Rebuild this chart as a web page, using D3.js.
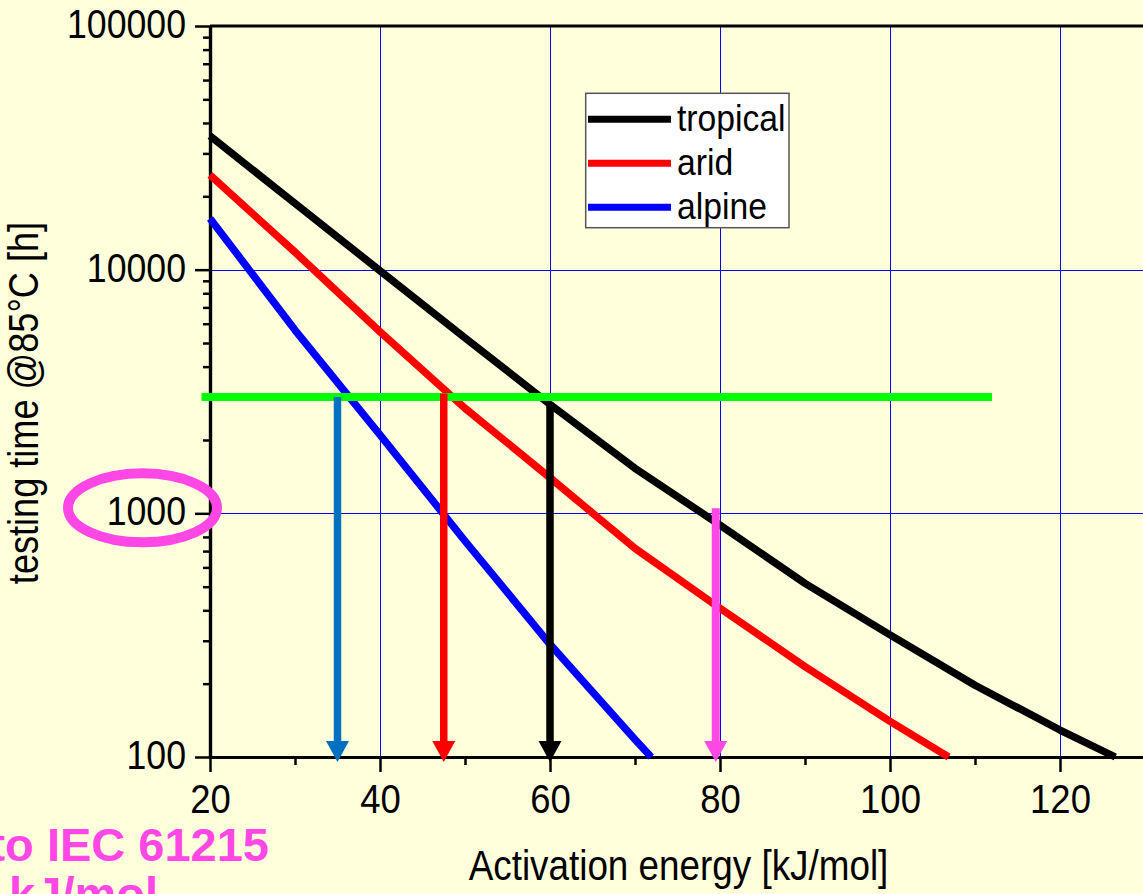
<!DOCTYPE html>
<html><head><meta charset="utf-8">
<script src="https://cdn.jsdelivr.net/npm/d3@7"></script>
<style>html,body{margin:0;padding:0;background:#FFFFDC;overflow:hidden}
text{font-family:"Liberation Sans",Arial,sans-serif}</style>
</head><body><svg id="c" width="1143" height="894"></svg>
<script>
// ---- data ----
const seriesNames = ["tropical", "arid", "alpine"];
const tropicalE = [20, 30, 40, 50, 60, 70, 80, 90, 100, 110, 120, 126.5];
const tropicalT = [35400, 18700, 9900, 5250, 2800, 1530, 895, 516, 317, 197, 129, 100];
const aridE = [20, 30, 40, 50, 60, 70, 80, 90, 100, 106.9];
const aridT = [24450, 11800, 5560, 2700, 1400, 718, 408, 235, 140, 100];
const alpineE = [20, 30, 40, 50, 60, 70, 71.9];
const alpineT = [16230, 5650, 2100, 770, 290, 118, 100];
const targetTime = 3000;            // horizontal green line (h)
const targetRange = [19, 112];      // extent of green line (kJ/mol)
const arrowE = [35, 47.5, 60, 79.5];       // read-off activation energies
const arrowTop = [3000, 3100, 2850, 1050]; // where arrows start (h)
const xMajor = [20, 40, 60, 80, 100, 120];
const xMinor = [30, 50, 70, 90, 110];
const yMajor = [100, 1000, 10000, 100000];
const xGrid = [40, 60, 80, 100, 120];
const yGrid = [1000, 10000];
const circledTick = 1000;

// ---- styles ----
const seriesColors = ["#000000", "#FF0000", "#0000FF"];
const arrowColors = ["#0070C0", "#FF0000", "#000000", "#FF47E6"];
const magenta = "#FF47E6";

const svg = d3.select("#c");
svg.append("rect").attr("width", 1143).attr("height", 894).attr("fill", "#FFFFDC");

const x = d3.scaleLinear().domain([20, 130]).range([210, 1145]);
const y = d3.scaleLog().domain([100, 100000]).range([757, 26]);

function condense(sel, f) {
  sel.each(function () {
    const w = this.getComputedTextLength();
    d3.select(this).attr("textLength", w * f).attr("lengthAdjust", "spacingAndGlyphs");
  });
}

// grid
svg.append("g").attr("shape-rendering", "crispEdges").selectAll("line").data(xGrid).join("line")
  .attr("x1", d => Math.round(x(d)) + 0.5).attr("x2", d => Math.round(x(d)) + 0.5)
  .attr("y1", y(100000)).attr("y2", y(100))
  .attr("stroke", "#0000FF").attr("stroke-width", 1.4);
svg.append("g").attr("shape-rendering", "crispEdges").selectAll("line").data(yGrid).join("line")
  .attr("x1", x(20)).attr("x2", x(130))
  .attr("y1", d => Math.round(y(d)) + 0.5).attr("y2", d => Math.round(y(d)) + 0.5)
  .attr("stroke", "#0000FF").attr("stroke-width", 1.4);

// top frame
svg.append("line").attr("x1", x(20)).attr("x2", x(130)).attr("y1", y(100000)).attr("y2", y(100000))
  .attr("stroke", "#000").attr("stroke-width", 3.2);

// axes
const yMinor = y.ticks().filter(v => !yMajor.includes(v));
const gyMinor = svg.append("g").attr("transform", `translate(${x(20)},0)`)
  .call(d3.axisLeft(y).tickValues(yMinor).tickSize(7).tickSizeOuter(0).tickFormat(""));
const gy = svg.append("g").attr("transform", `translate(${x(20)},0)`)
  .call(d3.axisLeft(y).tickValues(yMajor).tickSize(15).tickSizeOuter(0).tickPadding(9).tickFormat(d3.format("d")));
const gxMinor = svg.append("g").attr("transform", `translate(0,${y(100)})`)
  .call(d3.axisBottom(x).tickValues(xMinor).tickSize(8).tickSizeOuter(0).tickFormat(""));
const gx = svg.append("g").attr("transform", `translate(0,${y(100)})`)
  .call(d3.axisBottom(x).tickValues(xMajor).tickSize(15).tickSizeOuter(0));

[gyMinor, gy, gxMinor, gx].forEach(g => {
  g.select(".domain").attr("stroke", "#000").attr("stroke-width", 3.2);
  g.selectAll(".tick line").attr("stroke", "#000").attr("stroke-width", 2.5);
});
gy.selectAll(".tick text").attr("font-size", 41).attr("fill", "#000")
  .attr("dy", 11.5).attr("font-family", '"Liberation Sans",Arial,sans-serif');
gx.selectAll(".tick text").attr("font-size", 41).attr("fill", "#000")
  .attr("y", 56).attr("dy", 0).attr("font-family", '"Liberation Sans",Arial,sans-serif');
condense(gy.selectAll(".tick text"), 0.87);
condense(gx.selectAll(".tick text"), 0.89);

// axis titles
const xt = svg.append("text").attr("x", 678.5).attr("y", 880).attr("text-anchor", "middle")
  .attr("font-size", 42).attr("fill", "#000").text("Activation energy [kJ/mol]");
condense(xt, 0.877);
const yt = svg.append("text").attr("transform", "translate(38,403) rotate(-90)")
  .attr("text-anchor", "middle").attr("font-size", 42).attr("fill", "#000")
  .text("testing time @85°C [h]");
condense(yt, 0.86);

// curves
const series = [
  { name: seriesNames[0], pts: tropicalE.map((e, i) => [e, tropicalT[i]]) },
  { name: seriesNames[1], pts: aridE.map((e, i) => [e, aridT[i]]) },
  { name: seriesNames[2], pts: alpineE.map((e, i) => [e, alpineT[i]]) }
];
const line = d3.line().x(d => x(d[0])).y(d => y(d[1])).curve(d3.curveLinear);
svg.append("g").selectAll("path").data(series).join("path")
  .attr("d", d => line(d.pts)).attr("fill", "none")
  .attr("stroke", (d, i) => seriesColors[i]).attr("stroke-width", 7.5)
  .attr("stroke-linejoin", "round");

// green target line
svg.append("line").attr("x1", x(targetRange[0])).attr("x2", x(targetRange[1]))
  .attr("y1", y(targetTime)).attr("y2", y(targetTime))
  .attr("stroke", "#00FF00").attr("stroke-width", 8);

// arrows
const tipY = y(100) + 5, headH = 21, headW = 23;
const ag = svg.append("g");
arrowE.forEach((e, i) => {
  const cx = x(e);
  ag.append("line").attr("x1", cx).attr("x2", cx).attr("y1", y(arrowTop[i])).attr("y2", tipY - headH + 1)
    .attr("stroke", arrowColors[i]).attr("stroke-width", i === 3 ? 8 : 7.5);
  ag.append("path").attr("d", `M${cx - headW / 2},${tipY - headH}L${cx + headW / 2},${tipY - headH}L${cx},${tipY}Z`)
    .attr("fill", arrowColors[i]);
});

// legend
const lg = svg.append("g");
lg.append("rect").attr("x", 585.7).attr("y", 93.3).attr("width", 203.3).attr("height", 134.4)
  .attr("fill", "#FFFFFF").attr("stroke", "#555").attr("stroke-width", 1.5);
seriesNames.forEach((n, i) => {
  const ly = 119.3 + i * 44;
  lg.append("line").attr("x1", 588).attr("x2", 671).attr("y1", ly).attr("y2", ly)
    .attr("stroke", seriesColors[i]).attr("stroke-width", 7);
  const t = lg.append("text").attr("x", 677).attr("y", ly + 11.5).attr("font-size", 37)
    .attr("fill", "#000").text(n);
  condense(t, 0.91);
});

// magenta highlight ellipse around 1000 label
svg.append("ellipse").attr("cx", 142.5).attr("cy", y(circledTick) - 5.5)
  .attr("rx", 74.5).attr("ry", 34.5).attr("fill", "none")
  .attr("stroke", magenta).attr("stroke-width", 10);

// magenta annotation text (partly off-canvas, as in the reference)
svg.append("text").attr("x", 269).attr("y", 861).attr("text-anchor", "end")
  .attr("font-size", 47).attr("font-weight", "bold").attr("fill", magenta).text("to IEC 61215");
svg.append("text").attr("x", 158).attr("y", 910).attr("text-anchor", "end")
  .attr("font-size", 47).attr("font-weight", "bold").attr("fill", magenta).text("80 kJ/mol");
</script></body></html>
